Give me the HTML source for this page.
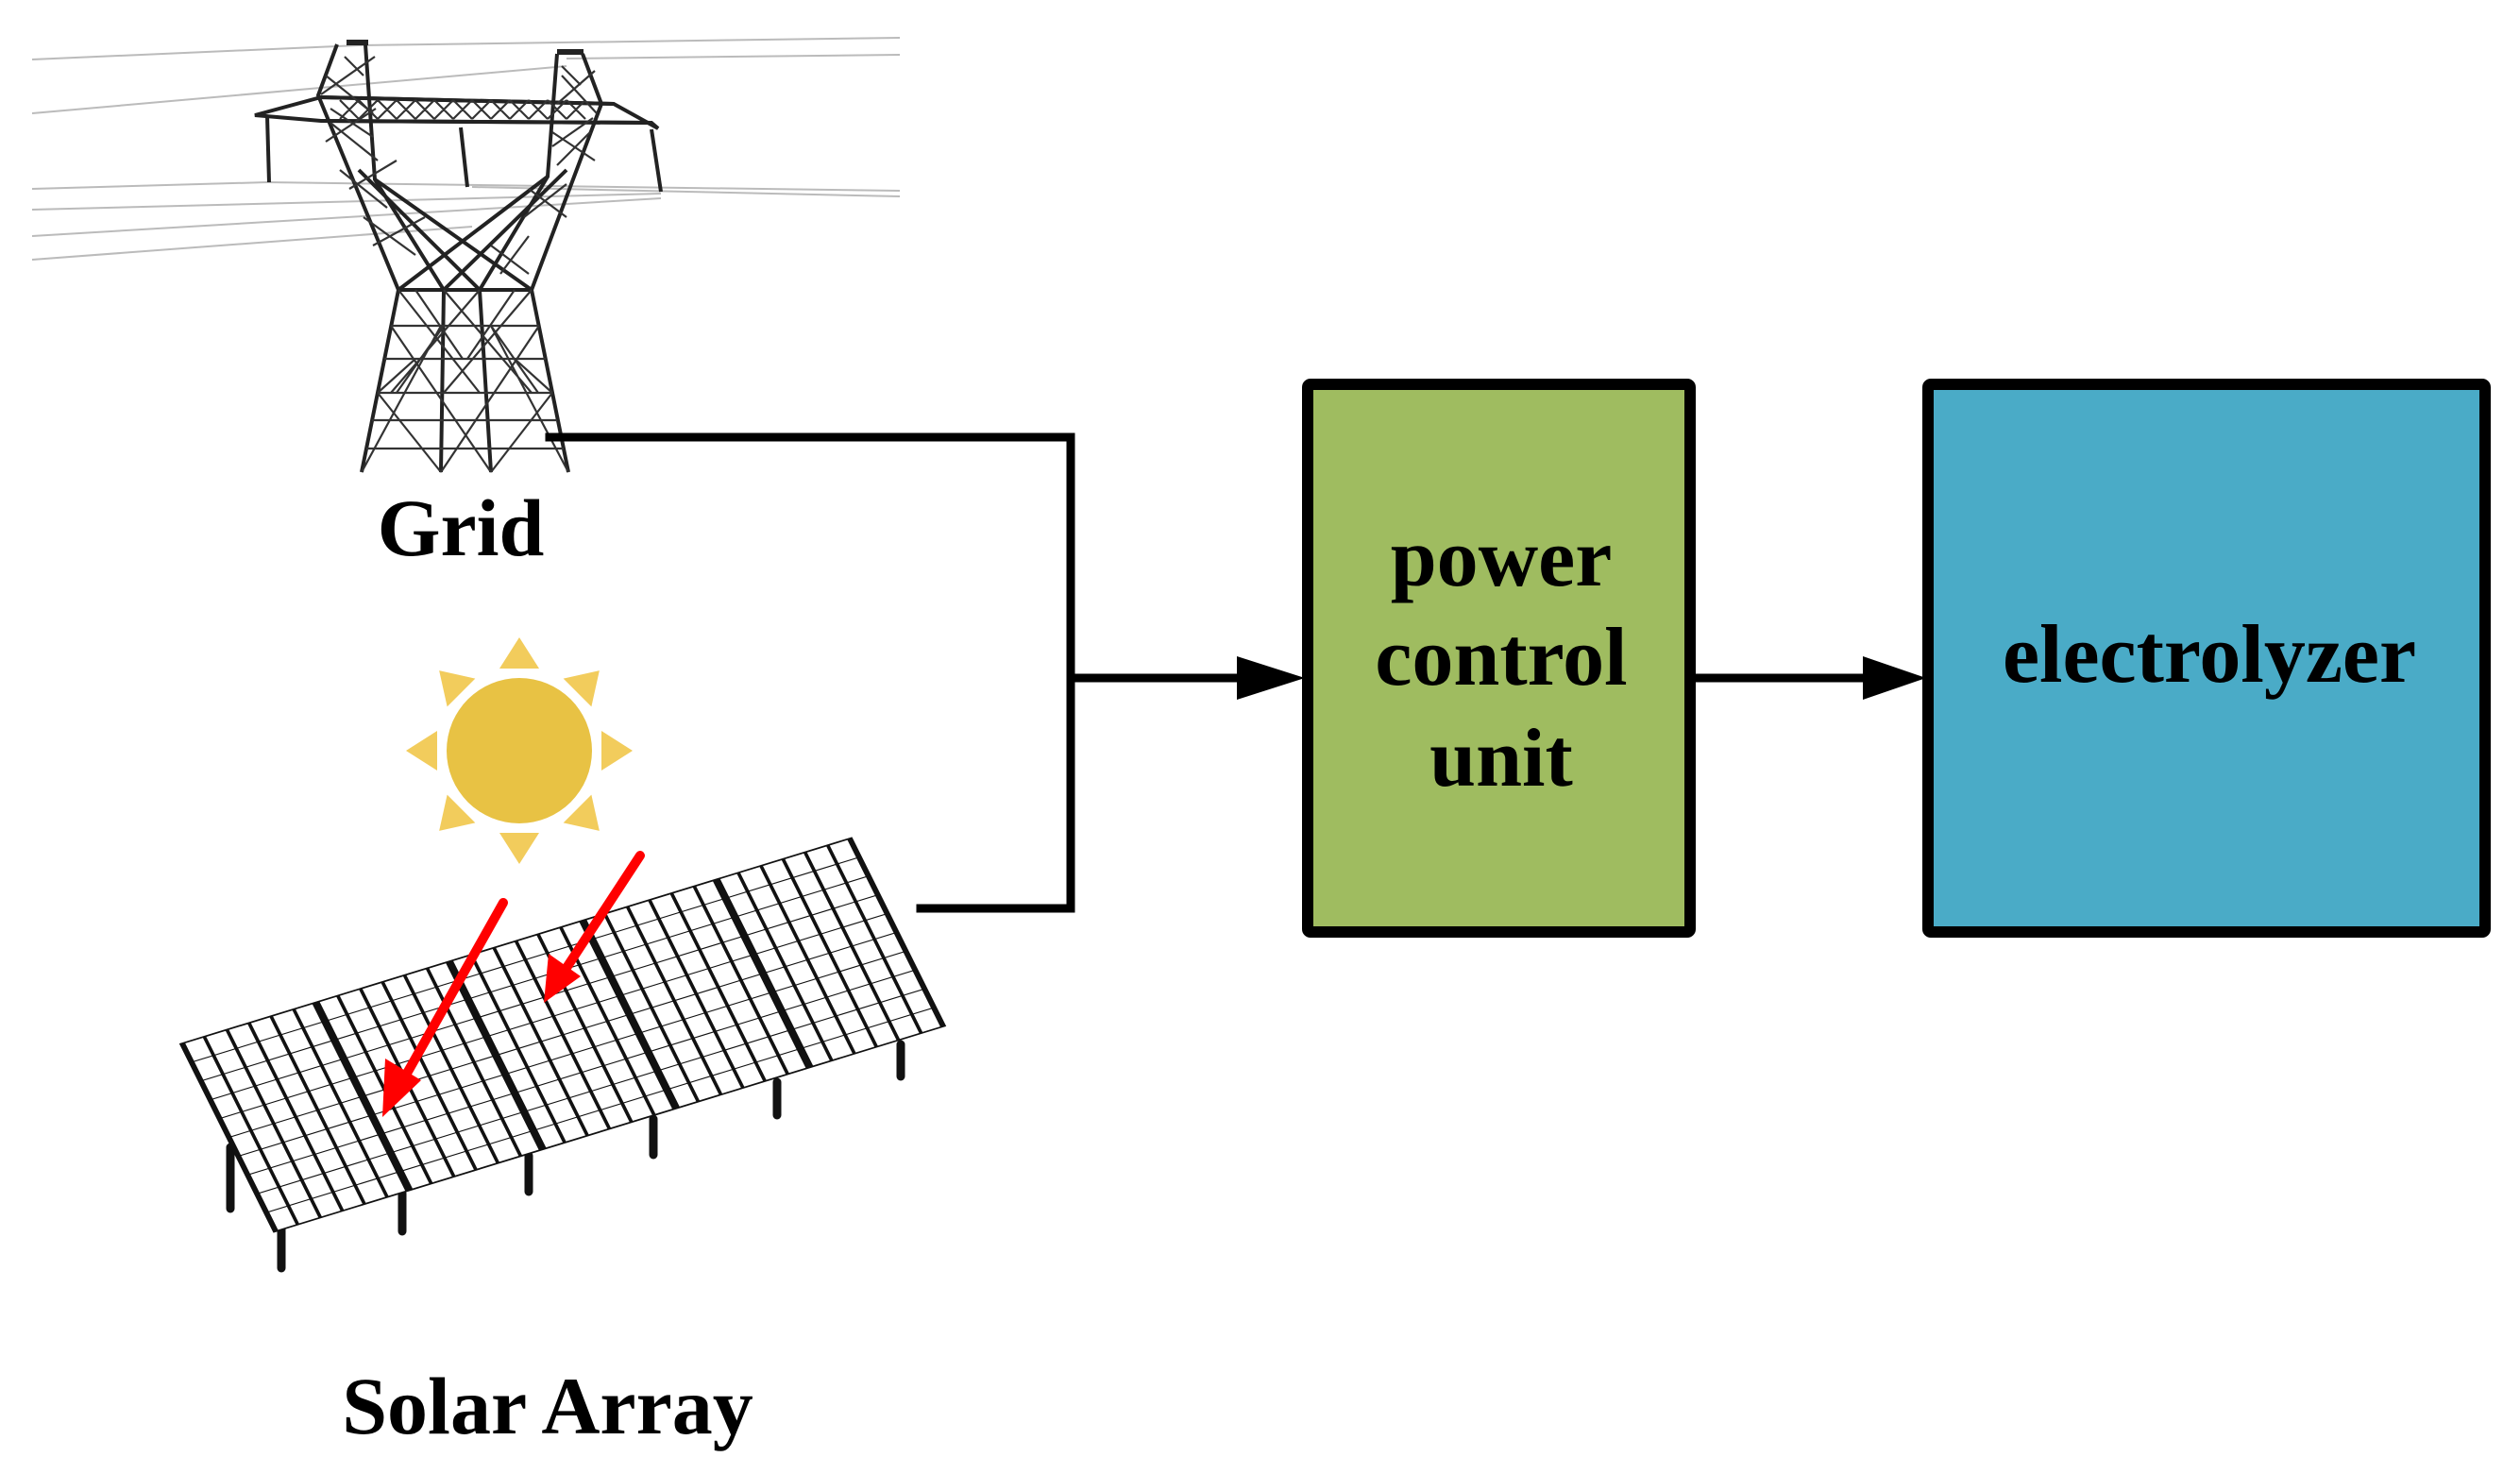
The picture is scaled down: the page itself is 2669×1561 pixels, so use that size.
<!DOCTYPE html>
<html><head><meta charset="utf-8"><style>
html,body{margin:0;padding:0;background:#fff;}
svg{display:block;}
text{font-family:"Liberation Serif",serif;font-weight:bold;fill:#000;}
</style></head><body>
<svg width="2669" height="1561" viewBox="0 0 2669 1561" xmlns="http://www.w3.org/2000/svg">
<defs>
<g id="ray"><polygon points="0,-120 -21,-87 21,-87" fill="#f2cc5c"/></g>
</defs>
<g stroke="#bbb" stroke-width="2" fill="none">
<line x1="34" y1="63" x2="380" y2="48"/>
<line x1="380" y1="48" x2="953" y2="40"/>
<line x1="34" y1="120" x2="600" y2="70"/>
<line x1="600" y1="62" x2="953" y2="58"/>
<line x1="34" y1="200" x2="283" y2="193"/>
<line x1="283" y1="193" x2="953" y2="202"/>
<line x1="34" y1="222" x2="700" y2="205"/>
<line x1="34" y1="250" x2="700" y2="210"/>
<line x1="34" y1="275" x2="500" y2="240"/>
<line x1="500" y1="198" x2="953" y2="208"/>
</g>
<g stroke="#222" stroke-width="4" fill="none">
<line x1="283" y1="123" x2="285" y2="193"/>
<line x1="488" y1="135" x2="495" y2="198"/>
<line x1="690" y1="137" x2="700" y2="203"/>
<polygon points="270,122 340,103 650,110 697,136 690,130 340,128" />
<line x1="340" y1="103" x2="650" y2="110"/>
<line x1="340" y1="128" x2="690" y2="130"/>
<polyline points="357,47 337,101 422,307"/>
<polyline points="387,47 397,190 470,307"/>
<polyline points="617,57 637,110 563,307"/>
<polyline points="590,57 580,187 508,307"/>
<line x1="367" y1="45" x2="390" y2="45" stroke-width="6"/>
<line x1="590" y1="55" x2="618" y2="55" stroke-width="6"/>
<line x1="397" y1="190" x2="563" y2="307"/>
<line x1="580" y1="187" x2="422" y2="307"/>
<line x1="380" y1="180" x2="508" y2="307"/>
<line x1="600" y1="180" x2="470" y2="307"/>
<line x1="422" y1="307" x2="383" y2="500"/>
<line x1="470" y1="307" x2="467" y2="500"/>
<line x1="508" y1="307" x2="520" y2="500"/>
<line x1="563" y1="307" x2="602" y2="500"/>
<line x1="422" y1="307" x2="563" y2="307"/>
</g>
<g stroke="#333" stroke-width="2.2" fill="none">
<path d="M345,80 L395,120 M340,100 L397,60 M350,130 L400,170 M345,150 L398,115 M360,180 L410,220 M370,200 L420,170 M385,230 L440,270 M395,260 L450,230 M365,60 L385,80 M350,115 L395,145"/>
<path d="M595,80 L632,120 M590,110 L630,75 M585,140 L630,170 M590,175 L625,140 M560,200 L600,230 M555,230 L600,195 M520,260 L560,290 M530,290 L560,250 M595,70 L615,90 M585,155 L628,125"/>
<path d="M360,106 L380,126 M380,106 L400,126 M400,106 L420,126 M420,106 L440,126 M440,106 L460,126 M460,106 L480,126 M480,106 L500,126 M500,106 L520,126 M520,106 L540,126 M540,106 L560,126 M560,106 L580,126 M580,106 L600,126 M600,106 L620,126 M380,106 L360,126 M400,106 L380,126 M420,106 L400,126 M440,106 L420,126 M460,106 L440,126 M480,106 L460,126 M500,106 L480,126 M520,106 L500,126 M540,106 L520,126 M560,106 L540,126 M580,106 L560,126 M600,106 L580,126 M620,106 L600,126"/>
<path d="M414,345 L571,345 M407,380 L578,380 M400,416 L585,416 M394,445 L590,445 M388,475 L597,475"/>
<path d="M422,307 L508,416 M470,307 L563,416 M508,307 L414,416 M563,307 L470,416 M414,345 L520,500 M467,345 L383,500 M520,345 L602,500 M571,345 L467,500 M400,416 L467,500 M585,416 L520,500 M400,416 L440,380 M585,416 L545,380 M470,345 L420,416 M520,345 L570,416 M440,307 L490,380 M545,307 L495,380"/>
</g>
<g stroke="#000" stroke-width="9" fill="none" stroke-linecap="square">
<polyline points="582,463 1134,463 1134,962 975,962"/>
<line x1="1134" y1="718" x2="1320" y2="718"/>
<line x1="1795" y1="718" x2="1980" y2="718"/>
</g>
<polygon points="1310,695 1382,718 1310,741" fill="#000"/>
<polygon points="1973,695 2040,718 1973,741" fill="#000"/>
<rect x="1385" y="407" width="405" height="580" fill="#9fbc60" stroke="#000" stroke-width="12" rx="3"/>
<rect x="2042" y="407" width="590" height="580" fill="#4aabc7" stroke="#000" stroke-width="12" rx="3"/>
<g font-size="88" text-anchor="middle">
<text x="1590" y="620">power</text>
<text x="1590" y="725">control</text>
<text x="1590" y="832">unit</text>
<text x="2340" y="722">electrolyzer</text>
</g>
<text x="488" y="588" font-size="86" text-anchor="middle">Grid</text>
<text x="580" y="1518" font-size="86" text-anchor="middle">Solar Array</text>
<g transform="translate(550,795)">
<circle r="77" fill="#e8c244"/>
<use href="#ray"/>
<use href="#ray" transform="rotate(45)"/>
<use href="#ray" transform="rotate(90)"/>
<use href="#ray" transform="rotate(135)"/>
<use href="#ray" transform="rotate(180)"/>
<use href="#ray" transform="rotate(225)"/>
<use href="#ray" transform="rotate(270)"/>
<use href="#ray" transform="rotate(315)"/>
</g>
<g stroke="#111" stroke-width="9" stroke-linecap="round">
<line x1="244" y1="1215" x2="244" y2="1280"/>
<line x1="298" y1="1300" x2="298" y2="1343"/>
<line x1="426" y1="1264" x2="426" y2="1304"/>
<line x1="560" y1="1224" x2="560" y2="1262"/>
<line x1="692" y1="1185" x2="692" y2="1223"/>
<line x1="823" y1="1146" x2="823" y2="1181"/>
<line x1="954" y1="1106" x2="954" y2="1140"/>
</g>
<g transform="matrix(7.07,-2.17,0.99,1.99,193,1105)" fill="none" stroke="#111">
<rect x="0" y="0" width="100" height="100" fill="#fff" stroke-width="0.8"/>
<g stroke-width="0.5">
<path d="M3.3,0V100 M6.7,0V100 M10,0V100 M13.3,0V100 M16.7,0V100
M23.3,0V100 M26.7,0V100 M30,0V100 M33.3,0V100 M36.7,0V100
M43.3,0V100 M46.7,0V100 M50,0V100 M53.3,0V100 M56.7,0V100
M63.3,0V100 M66.7,0V100 M70,0V100 M73.3,0V100 M76.7,0V100
M83.3,0V100 M86.7,0V100 M90,0V100 M93.3,0V100 M96.7,0V100"/>
<path d="M0,10H100 M0,20H100 M0,30H100 M0,40H100 M0,50H100 M0,60H100 M0,70H100 M0,80H100 M0,90H100"/>
</g>
<path d="M20,0V100 M40,0V100 M60,0V100 M80,0V100" stroke-width="1.1"/>
</g>
<g stroke="#f00" stroke-width="10" stroke-linecap="round">
<line x1="533" y1="956" x2="428" y2="1142"/>
<line x1="678" y1="906" x2="598" y2="1028"/>
</g>
<polygon points="405,1183 408,1121 446,1144" fill="#f00"/>
<polygon points="576,1062 581,1010 615,1034" fill="#f00"/>
</svg>
</body></html>
